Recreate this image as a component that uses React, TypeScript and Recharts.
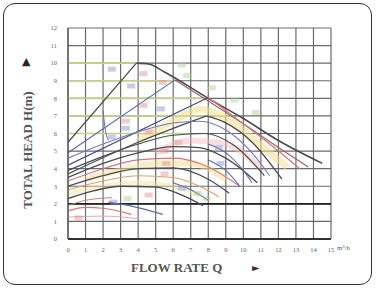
import React from 'react';
import {
  ComposedChart,
  Line,
  Scatter,
  XAxis,
  YAxis,
  CartesianGrid,
  ReferenceLine,
} from 'recharts';

// flow rate Q (m3/h) vs total head H (m)
const qTicks = [0, 1, 2, 3, 4, 5, 6, 7, 8, 9, 10, 11, 12, 13, 14, 15];
const hTicks = [0, 1, 2, 3, 4, 5, 6, 7, 8, 9, 10, 11, 12];

const riseA = [{ q: 0, h: 5.5 }, { q: 3.9, h: 10 }];
const descA = [
  { q: 3.9, h: 10 }, { q: 4.6, h: 9.95 }, { q: 5.5, h: 9.5 }, { q: 8, h: 8.0 },
  { q: 10, h: 6.85 }, { q: 12, h: 5.6 }, { q: 14.5, h: 4.3 },
];
const riseB = [{ q: 0, h: 4.9 }, { q: 6.1, h: 9.05 }];
const descB = [{ q: 6.1, h: 9.05 }, { q: 8, h: 7.85 }, { q: 10, h: 6.55 }, { q: 12, h: 5.2 }, { q: 13.7, h: 4.1 }];
const riseC = [{ q: 0, h: 4.2 }, { q: 8, h: 8.05 }];
const descC = [{ q: 8, h: 8.05 }, { q: 10, h: 6.55 }, { q: 12, h: 5.0 }, { q: 13.2, h: 4.0 }];
const riseD = [{ q: 0, h: 3.7 }, { q: 4, h: 5.5 }, { q: 7.9, h: 7.0 }];
const descD = [{ q: 7.9, h: 7.0 }, { q: 9, h: 6.6 }, { q: 10.5, h: 5.5 }, { q: 12.2, h: 3.4 }];

const upper1 = [
  { q: 0, h: 4.6 }, { q: 2, h: 5.4 }, { q: 4, h: 6.1 }, { q: 6, h: 6.6 },
  { q: 7.5, h: 6.7 }, { q: 9, h: 6.2 }, { q: 10.5, h: 4.9 }, { q: 11.5, h: 3.6 },
];
const upper2 = [
  { q: 0, h: 3.9 }, { q: 2, h: 4.7 }, { q: 4, h: 5.4 }, { q: 6, h: 5.9 },
  { q: 7.8, h: 6.0 }, { q: 9.5, h: 5.3 }, { q: 11.2, h: 3.6 },
];
const midE = [
  { q: 0, h: 3.5 }, { q: 2, h: 4.3 }, { q: 4, h: 4.9 }, { q: 6, h: 5.25 },
  { q: 7.5, h: 5.2 }, { q: 9, h: 4.6 }, { q: 10.8, h: 3.2 },
];
const midF = [
  { q: 0, h: 3.3 }, { q: 2, h: 4.0 }, { q: 4, h: 4.5 }, { q: 6, h: 4.6 },
  { q: 8, h: 4.1 }, { q: 9.8, h: 3.0 },
];
const midG = [
  { q: 0, h: 3.0 }, { q: 2, h: 3.6 }, { q: 4, h: 4.0 }, { q: 6, h: 4.05 },
  { q: 8, h: 3.4 }, { q: 9.2, h: 2.6 },
];
const midH = [
  { q: 0, h: 2.8 }, { q: 2, h: 3.3 }, { q: 4, h: 3.6 }, { q: 6, h: 3.5 },
  { q: 7.5, h: 3.0 }, { q: 8.6, h: 2.4 },
];
const lowI = [
  { q: 0, h: 2.3 }, { q: 1.5, h: 2.75 }, { q: 3, h: 3.0 }, { q: 5, h: 2.95 },
  { q: 6.5, h: 2.5 }, { q: 7.7, h: 1.9 },
];
const blueV1 = [{ q: 8, h: 5.4 }, { q: 9, h: 4.9 }, { q: 10, h: 3.9 }, { q: 10.5, h: 3.2 }];
const blueV2 = [{ q: 8, h: 4.5 }, { q: 9, h: 3.9 }, { q: 9.8, h: 3.0 }];
const blueV3 = [{ q: 6, h: 3.2 }, { q: 7, h: 2.8 }, { q: 8, h: 2.2 }];
const blueJ = [{ q: 2.3, h: 2.1 }, { q: 3.5, h: 1.9 }, { q: 5.4, h: 1.4 }];
const blueSteep = [{ q: 2.0, h: 7.3 }, { q: 2.1, h: 6.4 }, { q: 2.3, h: 5.6 }];
const redK = [{ q: 0, h: 1.6 }, { q: 1, h: 1.8 }, { q: 2, h: 1.75 }, { q: 3.6, h: 1.4 }];
const redM = [{ q: 0, h: 1.9 }, { q: 1, h: 2.2 }, { q: 2.5, h: 2.35 }];
const pinkL = [{ q: 0, h: 1.25 }, { q: 2, h: 1.3 }, { q: 4, h: 1.15 }];

// pale shaded bands between the middle curves
const bandYellow1 = [
  { q: 4, h: 5.6 }, { q: 6, h: 6.7 }, { q: 7.5, h: 7.4 }, { q: 9, h: 6.9 },
  { q: 11, h: 5.3 }, { q: 12.5, h: 4.1 },
];
const bandPink = [{ q: 5, h: 4.9 }, { q: 7, h: 5.6 }, { q: 9, h: 5.4 }, { q: 11, h: 4.0 }];
const bandYellow2 = [{ q: 1, h: 3.4 }, { q: 3, h: 3.9 }, { q: 5, h: 4.3 }, { q: 7, h: 4.3 }, { q: 9, h: 3.4 }];
const bandYellow3 = [{ q: 0, h: 2.6 }, { q: 2, h: 3.0 }, { q: 4, h: 3.2 }, { q: 6, h: 3.0 }, { q: 7.5, h: 2.5 }];

// little model tags printed on the curves
const blueTags = [
  { q: 2.5, h: 9.66 }, { q: 3.6, h: 8.7 }, { q: 3.3, h: 6.3 }, { q: 5.3, h: 7.4 },
  { q: 2.5, h: 5.8 }, { q: 8.6, h: 5.2 }, { q: 8.7, h: 4.3 }, { q: 6.5, h: 2.9 }, { q: 2.6, h: 2.1 },
];
const redTags = [
  { q: 4.3, h: 9.4 }, { q: 5.4, h: 8.9 }, { q: 4.3, h: 7.6 }, { q: 3.3, h: 6.7 },
  { q: 4.6, h: 6.1 }, { q: 6.3, h: 5.5 }, { q: 5.5, h: 5.0 }, { q: 5.6, h: 4.3 },
  { q: 5.5, h: 3.7 }, { q: 4.6, h: 2.5 }, { q: 0.6, h: 1.2 },
];
const greenTags = [
  { q: 6.5, h: 9.9 }, { q: 6.8, h: 9.3 }, { q: 8.2, h: 8.6 }, { q: 9.5, h: 7.9 },
  { q: 10.7, h: 7.2 }, { q: 7.4, h: 2.6 }, { q: 7.9, h: 2.3 }, { q: 3.4, h: 2.3 },
];

const tintRows = [
  { h: 10, to: 4 }, { h: 9, to: 6 }, { h: 8, to: 8 }, { h: 7, to: 9 }, { h: 6, to: 7 },
];

const DARK = '#4a4a52';
const BLUE = '#5b6bb0';
const RED = '#d77474';

const curves = [
  { data: bandYellow1, color: '#f2de8c', w: 7, o: 0.55 },
  { data: bandPink, color: '#f1b9b9', w: 6, o: 0.45 },
  { data: bandYellow2, color: '#f2de8c', w: 6, o: 0.5 },
  { data: bandYellow3, color: '#f2e39a', w: 5, o: 0.45 },
  { data: riseA, color: DARK, w: 1.3 },
  { data: descA, color: DARK, w: 1.6 },
  { data: riseB, color: BLUE, w: 1.2 },
  { data: descB, color: '#9a6464', w: 1.2 },
  { data: riseC, color: '#3f4c8c', w: 1.2 },
  { data: descC, color: RED, w: 1.2 },
  { data: riseD, color: DARK, w: 1.2 },
  { data: descD, color: DARK, w: 1.3 },
  { data: upper1, color: '#7a78b8', w: 1.1 },
  { data: upper2, color: DARK, w: 1.2 },
  { data: midE, color: DARK, w: 1.2 },
  { data: midF, color: RED, w: 1.1 },
  { data: midG, color: DARK, w: 1.2 },
  { data: midH, color: '#e0a060', w: 1.1 },
  { data: lowI, color: DARK, w: 1.4 },
  { data: blueV1, color: BLUE, w: 1.1 },
  { data: blueV2, color: BLUE, w: 1.1 },
  { data: blueV3, color: BLUE, w: 1.1 },
  { data: blueJ, color: BLUE, w: 1.2 },
  { data: blueSteep, color: BLUE, w: 1 },
  { data: redK, color: RED, w: 1.1 },
  { data: redM, color: '#c98080', w: 1 },
  { data: pinkL, color: '#e7a6b4', w: 1 },
];

const tagShape = (fill: string) => (props: any) => {
  const { cx, cy } = props;
  return <rect x={cx - 4} y={cy - 2.5} width={8} height={5} fill={fill} opacity={0.45} />;
};

export default function App() {
  const title: React.CSSProperties = {
    position: 'absolute',
    fontFamily: '"Liberation Serif", serif',
    fontWeight: 'bold',
    fontSize: 13,
    color: '#555',
    whiteSpace: 'nowrap',
  };

  return (
    <div style={{ position: 'fixed', left: 0, top: 0, width: 376, height: 289, background: '#fff' }}>
      <div
        style={{
          position: 'absolute', left: 3, top: 3, width: 369, height: 282,
          border: '1.6px solid #333', borderRadius: 12, boxSizing: 'border-box',
        }}
      />
      <ComposedChart width={376} height={289} margin={{ top: 28, right: 45, bottom: 30, left: 48 }}>
        <CartesianGrid stroke="#6a6a6a" strokeWidth={1.2} />
        <XAxis
          type="number"
          dataKey="q"
          domain={[0, 15]}
          ticks={qTicks}
          interval={0}
          height={20}
          allowDataOverflow
          tickLine={false}
          tickMargin={2}
          axisLine={{ stroke: '#333', strokeWidth: 2 }}
          tick={{ fontSize: 6.5, fill: '#666', fontFamily: '"Liberation Serif", serif' }}
        />
        <YAxis
          type="number"
          dataKey="h"
          domain={[0, 12]}
          ticks={hTicks}
          interval={0}
          width={20}
          allowDataOverflow
          tickLine={false}
          tickMargin={5}
          axisLine={{ stroke: '#555', strokeWidth: 1.2 }}
          tick={{ fontSize: 6.5, fill: '#666', fontFamily: '"Liberation Serif", serif' }}
        />
        {tintRows.map((r) => (
          <ReferenceLine
            key={r.h}
            segment={[{ x: 0, y: r.h }, { x: r.to, y: r.h }]}
            stroke="#c5cf86"
            strokeWidth={1.6}
          />
        ))}
        <ReferenceLine y={2} stroke="#222" strokeWidth={1.6} />
        {curves.map((c, i) => (
          <Line
            key={i}
            data={c.data}
            dataKey="h"
            type="monotone"
            stroke={c.color}
            strokeWidth={c.w}
            strokeOpacity={c.o ?? 1}
            dot={false}
            activeDot={false}
            isAnimationActive={false}
          />
        ))}
        <Scatter data={blueTags} dataKey="h" shape={tagShape('#7f8fd0')} isAnimationActive={false} />
        <Scatter data={redTags} dataKey="h" shape={tagShape('#e38d8d')} isAnimationActive={false} />
        <Scatter data={greenTags} dataKey="h" shape={tagShape('#a9d08a')} isAnimationActive={false} />
      </ComposedChart>
      <div style={{ ...title, left: 337, top: 244, fontSize: 7, fontWeight: 'normal', color: '#666' }}>
        m³/h
      </div>
      <div style={{ ...title, left: 131, top: 260 }}>FLOW RATE Q</div>
      <div style={{ ...title, left: 252, top: 262, fontFamily: '"DejaVu Sans", sans-serif', fontSize: 10, color: '#333' }}>
        ►
      </div>
      <div
        style={{
          ...title,
          left: 28,
          top: 150,
          transform: 'translate(-50%, -50%) rotate(-90deg)',
        }}
      >
        TOTAL HEAD H(m)
      </div>
      <div
        style={{
          ...title,
          left: 22,
          top: 55,
          fontFamily: '"DejaVu Sans", sans-serif',
          fontSize: 11,
          color: '#222',
        }}
      >
        ▲
      </div>
    </div>
  );
}
